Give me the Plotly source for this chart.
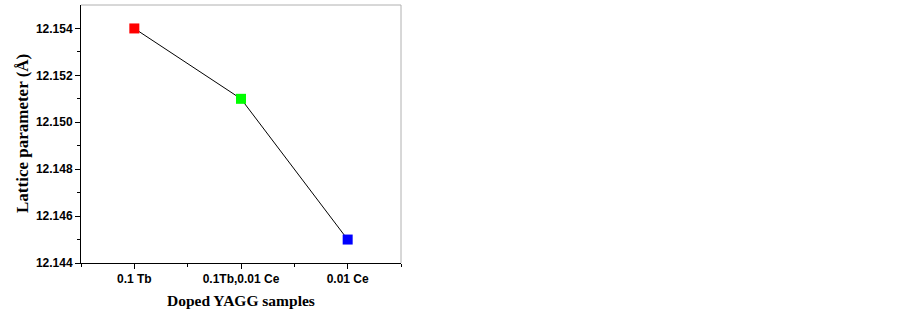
import plotly.graph_objects as go

categories = ["0.1 Tb", "0.1Tb,0.01 Ce", "0.01 Ce"]
lattice = [12.154, 12.151, 12.145]
colors = ["#ff0000", "#00ff00", "#0000ff"]
y_ticks = [12.144, 12.146, 12.148, 12.150, 12.152, 12.154]

xpos = list(range(len(categories)))

fig = go.Figure()
fig.add_trace(go.Scatter(
    x=xpos, y=lattice, mode="lines+markers",
    line=dict(color="black", width=1),
    marker=dict(symbol="square", size=10, color=colors, line=dict(width=0)),
    showlegend=False,
))

tickfont = dict(family="Liberation Sans, Arial", size=12, color="black")
titlefont_x = dict(family="Liberation Serif, Times New Roman", size=15.5, color="black")
titlefont_y = dict(family="Liberation Serif, Times New Roman", size=17, color="black")

fig.update_layout(
    width=902, height=313,
    margin=dict(l=81, r=501, t=5, b=50),
    plot_bgcolor="white", paper_bgcolor="white",
    xaxis=dict(
        range=[-0.5, 2.5], tickmode="array", tickvals=xpos,
        ticktext=["<b>%s</b>" % c for c in categories],
        ticks="outside", ticklen=5, tickwidth=1, tickcolor="black",
        showline=True, linecolor="black", linewidth=1, showgrid=False, zeroline=False,
        tickfont=tickfont, automargin=False,
        minor=dict(tickvals=[-0.5, 0.5, 1.5, 2.5], ticks="outside", ticklen=3, tickcolor="black", showgrid=False),
    ),
    yaxis=dict(
        range=[12.144, 12.155], tickmode="array", tickvals=y_ticks,
        ticktext=["<b>%.3f</b>" % v for v in y_ticks],
        ticks="outside", ticklen=5, tickwidth=1, tickcolor="black",
        showline=True, linecolor="black", linewidth=1, showgrid=False, zeroline=False,
        tickfont=tickfont, automargin=False,
        minor=dict(tickvals=[12.145, 12.147, 12.149, 12.151, 12.153], ticks="outside", ticklen=3, tickcolor="black", showgrid=False),
    ),
    shapes=[
        dict(type="line", xref="paper", yref="paper", x0=0, x1=1, y0=1, y1=1, line=dict(color="#b0b0b0", width=1)),
        dict(type="line", xref="paper", yref="paper", x0=1, x1=1, y0=0, y1=1, line=dict(color="#b0b0b0", width=1)),
    ],
    annotations=[
        dict(text="<b>Doped YAGG samples</b>", xref="paper", yref="paper", x=0.5, y=0,
             yshift=-37, xanchor="center", yanchor="middle", showarrow=False, font=titlefont_x),
        dict(text="<b>Lattice parameter (Å)</b>", xref="paper", yref="paper", x=0, y=0.5,
             xshift=-59, xanchor="center", yanchor="middle", textangle=-90, showarrow=False, font=titlefont_y),
    ],
)

fig.write_html("out.html", config={"displayModeBar": False},
               post_script="document.body.style.margin='0';")
